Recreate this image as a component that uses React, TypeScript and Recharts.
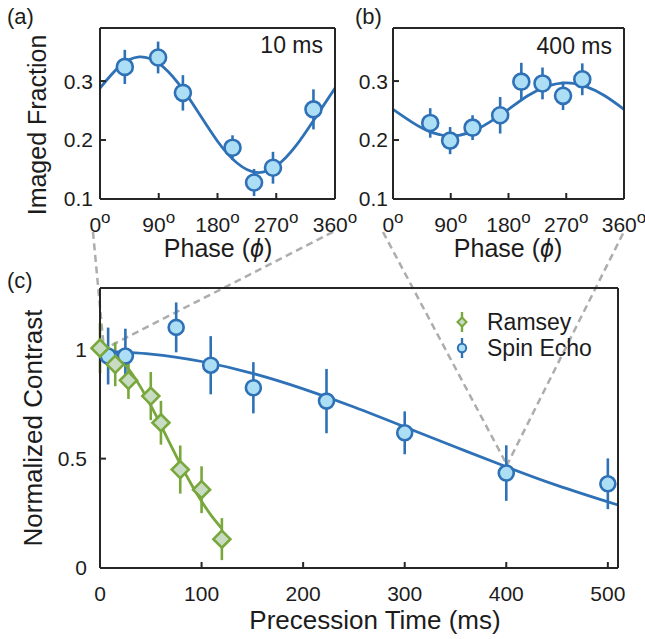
import React from 'react';
import {
  ComposedChart,
  Scatter,
  Line,
  XAxis,
  YAxis,
  ErrorBar,
  ReferenceLine,
  Legend,
  Customized,
} from 'recharts';

const FONT = "'Liberation Sans', Arimo, Arial, Helvetica, sans-serif";
const TEXT = '#1c1c1c';
const AXIS = '#262626';
const BLUE = '#2E71B6';
const BLUE_FILL = '#ACDEF6';
const GREEN = '#78A73B';
const GREEN_FILL = '#C7DCC3';
const DASH = '#ADADAD';

// ---------- Panel (a): 10 ms ----------
const phaseTicks = [0, 90, 180, 270, 360];
const fractionTicks = [0.1, 0.2, 0.3];
const phaseA = [38, 89, 127, 203, 236, 265, 327];
const fractionA = [0.324, 0.34, 0.28, 0.187, 0.128, 0.153, 0.252];
const errorA = [0.029, 0.027, 0.03, 0.021, 0.023, 0.027, 0.034];
const fitPhase = [0, 30, 60, 90, 120, 150, 180, 210, 240, 270, 300, 330, 360];
const fitFractionA = [0.288, 0.325, 0.341, 0.33, 0.296, 0.248, 0.198, 0.161, 0.145, 0.156, 0.19, 0.238, 0.288];

// ---------- Panel (b): 400 ms ----------
const phaseB = [58, 89, 124, 167, 200, 233, 265, 295];
const fractionB = [0.229, 0.199, 0.221, 0.242, 0.299, 0.296, 0.275, 0.303];
const errorB = [0.025, 0.023, 0.021, 0.031, 0.032, 0.027, 0.024, 0.027];
const fitFractionB = [0.252, 0.23, 0.213, 0.207, 0.213, 0.23, 0.252, 0.275, 0.291, 0.297, 0.291, 0.275, 0.252];

// ---------- Panel (c) ----------
const timeTicks = [0, 100, 200, 300, 400, 500];
const contrastTicks = [0, 0.5, 1];
const ramseyTime = [0, 15, 28, 50, 60, 79, 100, 120];
const ramseyContrast = [1.005, 0.931, 0.858, 0.786, 0.664, 0.45, 0.358, 0.132];
const ramseyError = [0.115, 0.1, 0.085, 0.11, 0.1, 0.11, 0.107, 0.096];
const echoTime = [8, 25, 75, 109, 151, 223, 300, 400, 500];
const echoContrast = [0.969, 0.969, 1.1, 0.927, 0.824, 0.763, 0.618, 0.434, 0.385];
const echoError = [0.13, 0.125, 0.114, 0.133, 0.117, 0.147, 0.098, 0.127, 0.116];
const ramseyFitTime = [0, 10, 20, 30, 40, 50, 60, 70, 80, 90, 100, 110, 120];
const ramseyFitContrast = [1.0, 0.988, 0.954, 0.898, 0.827, 0.743, 0.652, 0.558, 0.467, 0.382, 0.305, 0.237, 0.18];
const echoFitTime = [0, 50, 100, 150, 200, 250, 300, 350, 400, 450, 510];
const echoFitContrast = [0.99, 0.978, 0.944, 0.89, 0.819, 0.736, 0.645, 0.553, 0.463, 0.378, 0.288];

// zoom connectors (in panel-c data units): upper end -> data point
const zoomLinks = [
  { x1: -6.9, y1: 1.536, x2: 3.9, y2: 1.001 },
  { x1: 229.4, y1: 1.536, x2: 3.9, y2: 1.001 },
  { x1: 278.6, y1: 1.536, x2: 400.7, y2: 0.471 },
  { x1: 514.9, y1: 1.529, x2: 400.7, y2: 0.471 },
];

const legendItems = [
  { name: 'Ramsey', kind: 'diamond' },
  { name: 'Spin Echo', kind: 'circle' },
];

const zip = (xs: number[], ys: number[], es?: number[]) =>
  xs.map((x, i) => ({ x, y: ys[i], e: es ? es[i] : 0 }));

const ptsA = zip(phaseA, fractionA, errorA);
const fitA = zip(fitPhase, fitFractionA);
const ptsB = zip(phaseB, fractionB, errorB);
const fitB = zip(fitPhase, fitFractionB);
const ramseyPts = zip(ramseyTime, ramseyContrast, ramseyError);
const echoPts = zip(echoTime, echoContrast, echoError);
const ramseyFit = zip(ramseyFitTime, ramseyFitContrast);
const echoFit = zip(echoFitTime, echoFitContrast);

const circleShape = (r: number) => (p: any) =>
  p.cx == null ? <g /> : (
    <circle cx={p.cx} cy={p.cy} r={r} fill={BLUE_FILL} stroke={BLUE} strokeWidth={2.6} />
  );

const diamondShape = (s: number) => (p: any) =>
  p.cx == null ? <g /> : (
    <path
      d={`M${p.cx},${p.cy - s}L${p.cx + s},${p.cy}L${p.cx},${p.cy + s}L${p.cx - s},${p.cy}Z`}
      fill={GREEN_FILL}
      stroke={GREEN}
      strokeWidth={2.6}
    />
  );

const DegTick = (props: any) => {
  const { x, y, payload } = props;
  return (
    <text x={x} y={y} textAnchor="middle" fontFamily={FONT} fontSize={21} fill={TEXT}>
      <tspan dy={15}>{payload.value}</tspan>
      <tspan dy={-9} fontSize={17}>o</tspan>
    </text>
  );
};

const tickStyle = { fill: TEXT, fontSize: 21, fontFamily: FONT };
const axisLineStyle = { stroke: AXIS, strokeWidth: 2 };

type PanelProps = {
  left: number;
  width: number;
  marginLeft: number;
  marginRight: number;
  yWidth: number;
  yTickMargin: number;
  points: any[];
  fit: any[];
  texts: React.ReactNode;
};

const PhasePanel = ({ left, width, marginLeft, marginRight, yWidth, yTickMargin, points, fit, texts }: PanelProps) => (
  <div style={{ position: 'absolute', left, top: 0 }}>
    <ComposedChart
      width={width}
      height={272}
      margin={{ top: 27, right: marginRight, bottom: 23, left: marginLeft }}
    >
      <XAxis
        dataKey="x"
        type="number"
        domain={[0, 360]}
        ticks={phaseTicks}
        interval={0}
        height={50}
        tickSize={-6}
        tickMargin={24}
        tick={<DegTick />}
        stroke={AXIS}
        axisLine={axisLineStyle}
        tickLine={axisLineStyle}
      />
      <YAxis
        dataKey="y"
        type="number"
        domain={[0.1, 0.39]}
        ticks={fractionTicks}
        interval={0}
        width={yWidth}
        tickSize={-6}
        tickMargin={yTickMargin}
        tick={tickStyle}
        stroke={AXIS}
        axisLine={axisLineStyle}
        tickLine={axisLineStyle}
      />
      <XAxis
        xAxisId="top"
        orientation="top"
        type="number"
        domain={[0, 360]}
        ticks={phaseTicks}
        height={1}
        tick={false}
        tickSize={-6}
        stroke={AXIS}
        axisLine={axisLineStyle}
        tickLine={axisLineStyle}
      />
      <YAxis
        yAxisId="right"
        orientation="right"
        type="number"
        domain={[0.1, 0.39]}
        ticks={fractionTicks}
        width={1}
        tick={false}
        tickSize={-6}
        stroke={AXIS}
        axisLine={axisLineStyle}
        tickLine={axisLineStyle}
      />
      <Scatter data={points} dataKey="y" shape={circleShape(8)} isAnimationActive={false}>
        <ErrorBar dataKey="e" direction="y" width={0} stroke={BLUE} strokeWidth={2.6} isAnimationActive={false} />
      </Scatter>
      <Line
        data={fit}
        dataKey="y"
        type="natural"
        stroke={BLUE}
        strokeWidth={2.8}
        dot={false}
        activeDot={false}
        isAnimationActive={false}
      />
      <Customized component={() => <g fontFamily={FONT} fill={TEXT}>{texts}</g>} />
    </ComposedChart>
  </div>
);

const renderLegend = () => (
  <div style={{ fontFamily: FONT, fontSize: 23, color: TEXT }}>
    {legendItems.map((item) => {
      const color = item.kind === 'diamond' ? GREEN : BLUE;
      return (
        <div key={item.name} style={{ display: 'flex', alignItems: 'center', height: 26 }}>
          <svg width={24} height={26}>
            <line x1={12} x2={12} y1={3} y2={23} stroke={color} strokeWidth={2.4} />
            {item.kind === 'diamond' ? (
              <path d="M12,8.5L16.5,13L12,17.5L7.5,13Z" fill={GREEN_FILL} stroke={GREEN} strokeWidth={2} />
            ) : (
              <circle cx={12} cy={13} r={4.2} fill={BLUE_FILL} stroke={BLUE} strokeWidth={2} />
            )}
          </svg>
          <span style={{ marginLeft: 13, lineHeight: '26px' }}>{item.name}</span>
        </div>
      );
    })}
  </div>
);

export default function App() {
  return (
    <div style={{ position: 'absolute', left: 0, top: 0, width: 645, height: 639, background: '#fff' }}>
      {/* Panel (c) */}
      <div style={{ position: 'absolute', left: 0, top: 0 }}>
        <ComposedChart width={645} height={639} margin={{ top: 287, right: 26, bottom: 11, left: 40 }}>
          <XAxis
            dataKey="x"
            type="number"
            domain={[0, 510]}
            ticks={timeTicks}
            interval={0}
            height={60}
            tickSize={-6}
            tickMargin={24}
            tick={tickStyle}
            stroke={AXIS}
            axisLine={axisLineStyle}
            tickLine={axisLineStyle}
          />
          <YAxis
            dataKey="y"
            type="number"
            domain={[0, 1.28]}
            ticks={contrastTicks}
            interval={0}
            width={60}
            tickSize={-6}
            tickMargin={19}
            tick={tickStyle}
            stroke={AXIS}
            axisLine={axisLineStyle}
            tickLine={axisLineStyle}
          />
          <XAxis
            xAxisId="top"
            orientation="top"
            type="number"
            domain={[0, 510]}
            ticks={timeTicks}
            height={1}
            tick={false}
            tickSize={-6}
            stroke={AXIS}
            axisLine={axisLineStyle}
            tickLine={axisLineStyle}
          />
          <YAxis
            yAxisId="right"
            orientation="right"
            type="number"
            domain={[0, 1.28]}
            ticks={contrastTicks}
            width={1}
            tick={false}
            tickSize={-6}
            stroke={AXIS}
            axisLine={axisLineStyle}
            tickLine={axisLineStyle}
          />
          {zoomLinks.map((l, i) => (
            <ReferenceLine
              key={i}
              segment={[
                { x: l.x1, y: l.y1 },
                { x: l.x2, y: l.y2 },
              ]}
              ifOverflow="visible"
              stroke={DASH}
              strokeWidth={2.5}
              strokeDasharray="7 4.5"
            />
          ))}
          <Scatter data={echoPts} dataKey="y" shape={circleShape(7.5)} isAnimationActive={false}>
            <ErrorBar dataKey="e" direction="y" width={0} stroke={BLUE} strokeWidth={2.6} isAnimationActive={false} />
          </Scatter>
          <Scatter data={ramseyPts} dataKey="y" shape={diamondShape(8.5)} isAnimationActive={false}>
            <ErrorBar dataKey="e" direction="y" width={0} stroke={GREEN} strokeWidth={2.6} isAnimationActive={false} />
          </Scatter>
          <Line
            data={echoFit}
            dataKey="y"
            type="natural"
            stroke={BLUE}
            strokeWidth={2.8}
            dot={false}
            activeDot={false}
            isAnimationActive={false}
          />
          <Line
            data={ramseyFit}
            dataKey="y"
            type="natural"
            stroke={GREEN}
            strokeWidth={2.8}
            dot={false}
            activeDot={false}
            isAnimationActive={false}
          />
          <Legend
            layout="vertical"
            align="center"
            verticalAlign="middle"
            wrapperStyle={{ left: 450, top: 309, width: 200, height: 52 }}
            content={renderLegend}
          />
          <Customized
            component={() => (
              <g fontFamily={FONT} fill={TEXT}>
                <text x={7} y={288} fontSize={22}>(c)</text>
                <text x={375} y={629} fontSize={26} textAnchor="middle">Precession Time (ms)</text>
                <text transform="translate(42,428) rotate(-90)" fontSize={26} textAnchor="middle">
                  Normalized Contrast
                </text>
              </g>
            )}
          />
        </ComposedChart>
      </div>

      {/* Panel (a) */}
      <PhasePanel
        left={0}
        width={372}
        marginLeft={40}
        marginRight={36}
        yWidth={60}
        yTickMargin={13}
        points={ptsA}
        fit={fitA}
        texts={
          <>
            <text x={7} y={24} fontSize={22}>(a)</text>
            <text x={323} y={53} fontSize={23} textAnchor="end">10 ms</text>
            <text x={218} y={257} fontSize={25} textAnchor="middle">
              Phase (<tspan fontStyle="italic">ϕ</tspan>)
            </text>
            <text transform="translate(46,125) rotate(-90)" fontSize={25} textAnchor="middle">
              Imaged Fraction
            </text>
          </>
        }
      />

      {/* Panel (b) */}
      <PhasePanel
        left={345}
        width={300}
        marginLeft={0}
        marginRight={20}
        yWidth={48}
        yTickMargin={11}
        points={ptsB}
        fit={fitB}
        texts={
          <>
            <text x={10} y={24} fontSize={22}>(b)</text>
            <text x={267} y={54} fontSize={23} textAnchor="end">400 ms</text>
            <text x={163} y={257} fontSize={25} textAnchor="middle">
              Phase (<tspan fontStyle="italic">ϕ</tspan>)
            </text>
          </>
        }
      />
    </div>
  );
}
